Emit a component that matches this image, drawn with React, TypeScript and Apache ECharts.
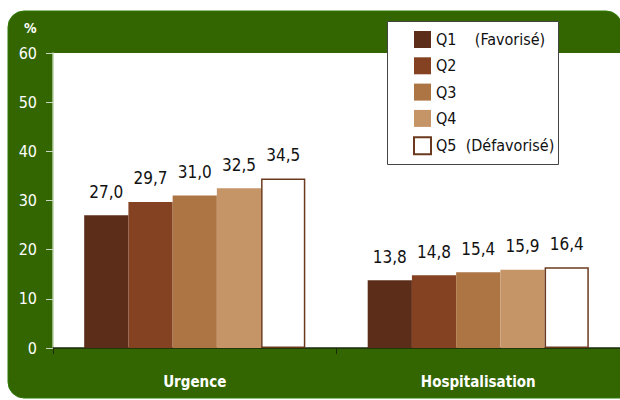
import React, { useEffect, useRef } from "react";
import * as echarts from "echarts";

const categories = ["Urgence", "Hospitalisation"];
const seriesNames = ["Q1", "Q2", "Q3", "Q4", "Q5"];
const legendLabels = ["Q1    (Favorisé)", "Q2", "Q3", "Q4", "Q5  (Défavorisé)"];
const q1 = [27.0, 13.8];
const q2 = [29.7, 14.8];
const q3 = [31.0, 15.4];
const q4 = [32.5, 15.9];
const q5 = [34.5, 16.4];
const seriesValues = [q1, q2, q3, q4, q5];
const yTicks = { min: 0, max: 60, interval: 10 };

const colors = ["#5C2E1A", "#854223", "#AD7544", "#C59568", "#FFFFFF"];
const FONT = "'DejaVu Sans Condensed', 'Noto Sans', sans-serif";

export default function App() {
  const ref = useRef<HTMLDivElement>(null);
  useEffect(() => {
    if (!ref.current) return;
    const chart = echarts.init(ref.current, undefined, { renderer: "svg" });
    const series = seriesNames.map((name, i) => ({
      name,
      type: "bar",
      data: seriesValues[i],
      barGap: "0%",
      barCategoryGap: "22%",
      itemStyle:
        i === 4
          ? { color: "#FFFFFF", borderColor: "#6B3A1E", borderWidth: 1.5 }
          : { color: colors[i] },
      label: {
        show: true,
        position: "top",
        distance: 15,
        color: "#111",
        fontFamily: FONT,
        fontSize: 17,
        formatter: (p: any) => p.value.toFixed(1).replace(".", ","),
      },
    }));
    chart.setOption({
      animation: false,
      backgroundColor: "#FFFFFF",
      textStyle: { fontFamily: FONT },
      graphic: [
        {
          type: "rect",
          z: -10,
          shape: { x: 8, y: 11, width: 614, height: 387, r: [16, 16, 0, 16] },
          style: { fill: "#336600", stroke: "#2E7A06", lineWidth: 1 },
        },
        {
          type: "rect",
          z: 3,
          shape: { x: 387.5, y: 21.5, width: 171, height: 143 },
          style: { fill: "#FFFFFF", stroke: "#444", lineWidth: 1 },
        },
        {
          type: "text",
          x: 24,
          y: 21,
          style: { text: "%", fill: "#FFFFFF", font: `bold 14px ${FONT}` },
        },
      ],
      grid: {
        left: 53,
        top: 53,
        width: 572,
        height: 295,
        show: true,
        backgroundColor: "#FFFFFF",
        borderWidth: 0,
      },
      legend: {
        orient: "vertical",
        left: 413,
        top: 31,
        padding: 0,
        itemWidth: 17,
        itemHeight: 17,
        itemGap: 9.3,
        z: 5,
        icon: "rect",
        data: seriesNames,
        formatter: (name: string) => legendLabels[seriesNames.indexOf(name)],
        textStyle: { color: "#111", fontSize: 16, fontFamily: FONT },
      },
      xAxis: {
        type: "category",
        data: categories,
        axisLine: { lineStyle: { color: "#1B2A0C", width: 1.5 } },
        axisTick: { show: true, length: 6, lineStyle: { color: "#1B2A0C" } },
        axisLabel: {
          color: "#FFFFFF",
          fontWeight: "bold",
          fontSize: 15,
          margin: 26,
          fontFamily: FONT,
        },
      },
      yAxis: {
        type: "value",
        min: yTicks.min,
        max: yTicks.max,
        interval: yTicks.interval,
        splitLine: { show: false },
        axisLine: { show: true, lineStyle: { color: "#B8CFA8", width: 1.5 } },
        axisTick: { show: true, length: 7, lineStyle: { color: "#C8D4C0" } },
        axisLabel: { color: "#FFFFFF", fontSize: 16, margin: 16, fontFamily: FONT },
      },
      series,
    });
    return () => chart.dispose();
  }, []);
  return (
    <div
      ref={ref}
      style={{ position: "fixed", left: 0, top: 0, width: 620, height: 400 }}
    />
  );
}
